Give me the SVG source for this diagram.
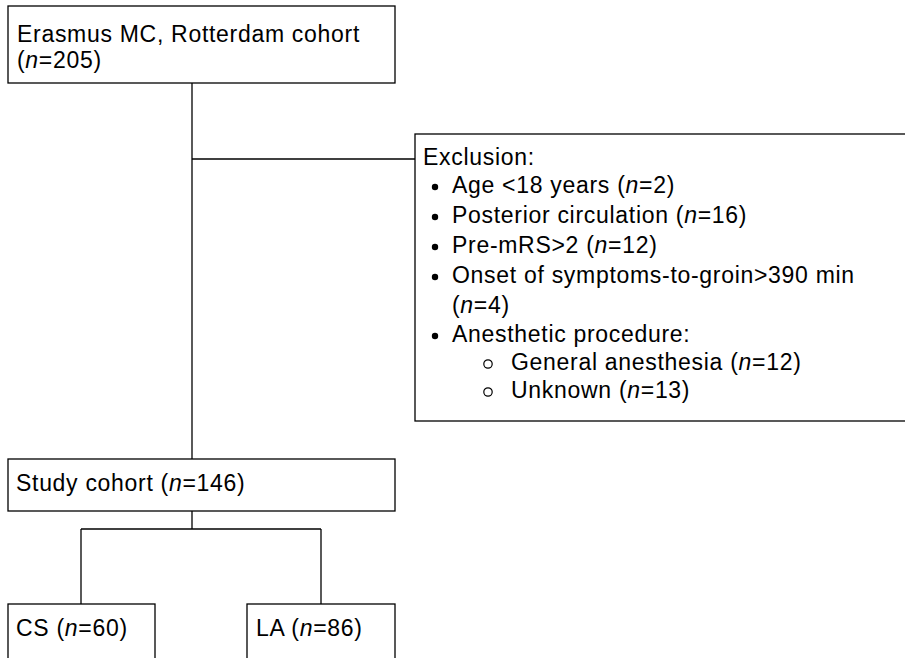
<svg xmlns="http://www.w3.org/2000/svg" width="905" height="658" viewBox="0 0 905 658">
  <style>
    .box { fill: #fff; stroke: #000; stroke-width: 1.3; }
    .conn { fill: none; stroke: #000; stroke-width: 1.3; }
    text { font-family: "Liberation Sans", Arial, sans-serif; font-size: 23px; fill: #000; letter-spacing: 0.7px; }
    .bullet { fill: #000; }
    .sub { fill: none; stroke: #000; stroke-width: 1.2; }
  </style>
  <rect width="905" height="658" fill="#fff"/>

  <g id="connectors">
    <line class="conn" x1="192" y1="83" x2="192" y2="459"/>
    <line class="conn" x1="192" y1="159" x2="415" y2="159"/>
    <line class="conn" x1="192" y1="511" x2="192" y2="529"/>
    <line class="conn" x1="81" y1="529" x2="321" y2="529"/>
    <line class="conn" x1="81" y1="529" x2="81" y2="604"/>
    <line class="conn" x1="321" y1="529" x2="321" y2="604"/>
  </g>

  <g id="erasmus">
    <rect class="box" x="8" y="6" width="387" height="77"/>
    <text x="17" y="42">Erasmus MC, Rotterdam cohort</text>
    <text x="17" y="68">(<tspan font-style="italic">n</tspan>=205)</text>
  </g>

  <g id="exclusion">
    <rect class="box" x="415" y="134" width="500" height="287"/>
    <text x="423" y="165">Exclusion:</text>
    <circle class="bullet" cx="435" cy="187" r="3.2"/>
    <text x="452" y="193">Age &lt;18 years (<tspan font-style="italic">n</tspan>=2)</text>
    <circle class="bullet" cx="435" cy="217" r="3.2"/>
    <text x="452" y="223">Posterior circulation (<tspan font-style="italic">n</tspan>=16)</text>
    <circle class="bullet" cx="435" cy="247" r="3.2"/>
    <text x="452" y="253">Pre-mRS&gt;2 (<tspan font-style="italic">n</tspan>=12)</text>
    <circle class="bullet" cx="435" cy="277" r="3.2"/>
    <text x="452" y="283">Onset of symptoms-to-groin&gt;390 min</text>
    <text x="452" y="313">(<tspan font-style="italic">n</tspan>=4)</text>
    <circle class="bullet" cx="435" cy="336" r="3.2"/>
    <text x="452" y="342">Anesthetic procedure:</text>
    <circle class="sub" cx="488" cy="364" r="4.2"/>
    <text x="511" y="370">General anesthesia (<tspan font-style="italic">n</tspan>=12)</text>
    <circle class="sub" cx="488" cy="392" r="4.2"/>
    <text x="511" y="398">Unknown (<tspan font-style="italic">n</tspan>=13)</text>
  </g>

  <g id="study">
    <rect class="box" x="8" y="459" width="387" height="52"/>
    <text x="16" y="491">Study cohort (<tspan font-style="italic">n</tspan>=146)</text>
  </g>

  <g id="cs">
    <rect class="box" x="8" y="604" width="147" height="70"/>
    <text x="16" y="636">CS (<tspan font-style="italic">n</tspan>=60)</text>
  </g>

  <g id="la">
    <rect class="box" x="247" y="604" width="148" height="70"/>
    <text x="256" y="636">LA (<tspan font-style="italic">n</tspan>=86)</text>
  </g>
</svg>
